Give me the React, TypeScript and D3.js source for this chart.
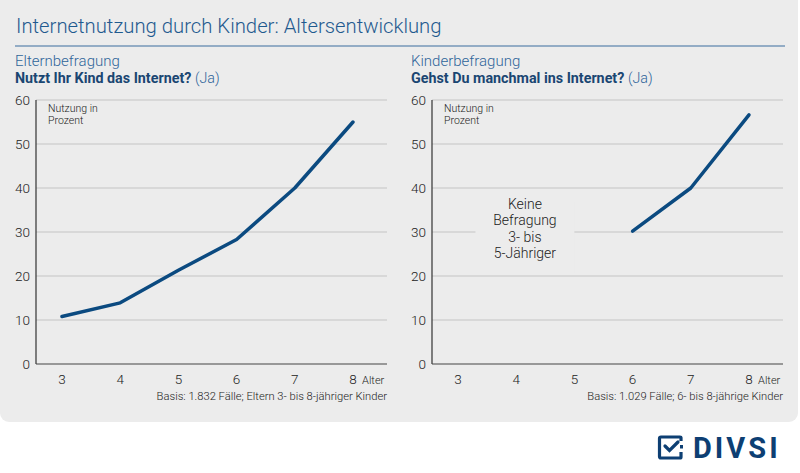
import * as d3 from "d3";
import { useEffect } from "react";

// ages on the x axis
const ages = [3, 4, 5, 6, 7, 8];
const yTicks = [0, 10, 20, 30, 40, 50, 60];

// Elternbefragung: Nutzt Ihr Kind das Internet? (Ja)
const elternAges = [3, 4, 5, 6, 7, 8];
const elternValues = [10.8, 13.9, 21.3, 28.3, 40, 55];

// Kinderbefragung: Gehst Du manchmal ins Internet? (Ja)
const kinderAges = [6, 7, 8];
const kinderValues = [30.2, 40, 56.6];

const FONT = "Roboto, 'DejaVu Sans', sans-serif";
const BLUE = "#0b4a80";

interface PanelProps {
    dx: number;
    heading: string;
    question: string;
    xs: number[];
    ys: number[];
    basis: string;
    note?: string[];
}

function Panel({ dx, heading, question, xs, ys, basis, note }: PanelProps) {
    const axisX = 36;
    const right = 387;
    const x = d3.scaleLinear().domain([3, 8]).range([62, 353]);
    const y = d3.scaleLinear().domain([0, 60]).range([364, 100]);

    const line = d3
        .line<number>()
        .x((_, i) => x(xs[i]))
        .y((d) => y(d));

    return (
        <g transform={`translate(${dx},0)`} fontFamily={FONT}>
            <text x={15} y={66} fontSize={15} fontWeight={300} fill="#2f659a">
                {heading}
            </text>
            <text x={15} y={83} fontSize={14.3} fontWeight={700} fill="#1a4672">
                {question}{" "}
                <tspan fontWeight={300} fill="#2f659a">(Ja)</tspan>
            </text>

            {/* gridlines */}
            {yTicks.filter((t) => t > 0).map((t) => (
                <line key={t} x1={axisX} x2={right} y1={y(t)} y2={y(t)} stroke="#c4c4c4" strokeWidth={1} />
            ))}
            {yTicks.map((t) => (
                <text key={"l" + t} x={30} y={y(t)} dy="0.35em" textAnchor="end" fontSize={13.5} fontWeight={300} fill="#222">
                    {t}
                </text>
            ))}

            {note && (
                <g>
                    <rect x={x(3.3)} y={y(37)} width={x(5) - x(3.3)} height={y(20.5) - y(37)} fill="#ececec" />
                    {note.map((s, i) => (
                        <text key={s} x={x(4.15)} y={209 + i * 16.3} textAnchor="middle" fontSize={14} fontWeight={300} fill="#222">
                            {s}
                        </text>
                    ))}
                </g>
            )}

            {/* axes */}
            <line x1={axisX} x2={axisX} y1={y(60)} y2={y(0)} stroke="#333" strokeWidth={1.2} />
            <line x1={axisX} x2={right} y1={y(0)} y2={y(0)} stroke="#444" strokeWidth={1.2} />
            {ages.map((a) => (
                <text key={a} x={x(a)} y={384} textAnchor="middle" fontSize={13.5} fontWeight={300} fill="#222">
                    {a}
                </text>
            ))}
            <text x={x(8) + 9} y={384} fontSize={11} fontWeight={300} fill="#222">Alter</text>
            <text x={48} y={112} fontSize={10.5} fontWeight={300} fill="#222">Nutzung in</text>
            <text x={48} y={124} fontSize={10.5} fontWeight={300} fill="#222">Prozent</text>
            <text x={right} y={400} textAnchor="end" fontSize={11.2} fontWeight={300} fill="#222">
                {basis}
            </text>

            <path d={line(ys) ?? ""} fill="none" stroke={BLUE} strokeWidth={3.5} strokeLinejoin="round" strokeLinecap="round" />
        </g>
    );
}

export default function App() {
    useEffect(() => {
        document.body.style.margin = "0";
    }, []);

    return (
        <svg width={800} height={473} style={{ display: "block" }}>
            <rect x={0} y={0} width={800} height={473} fill="#ffffff" />
            <rect x={0} y={-10} width={798} height={432} rx={9} fill="#ececec" />
            <text x={16} y={33} fontFamily={FONT} fontSize={20.3} fontWeight={300} fill="#1f5a8f">
                Internetnutzung durch Kinder: Altersentwicklung
            </text>
            <line x1={15} x2={785} y1={46} y2={46} stroke="#3b6d9e" strokeWidth={1.2} />

            <Panel
                dx={0}
                heading="Elternbefragung"
                question="Nutzt Ihr Kind das Internet?"
                xs={elternAges}
                ys={elternValues}
                basis="Basis: 1.832 Fälle; Eltern 3- bis 8-jähriger Kinder"
            />
            <Panel
                dx={396}
                heading="Kinderbefragung"
                question="Gehst Du manchmal ins Internet?"
                xs={kinderAges}
                ys={kinderValues}
                basis="Basis: 1.029 Fälle; 6- bis 8-jährige Kinder"
                note={["Keine", "Befragung", "3- bis", "5-Jähriger"]}
            />

            {/* DIVSI logo */}
            <g fill="none" stroke="#0d3f73" strokeWidth={3.2}>
                <path d="M681 441 L681 437.5 Q681 437 680 437 L661 437 Q659.5 437 659.5 438.5 L659.5 456.5 Q659.5 458 661 458 L680 458 Q681 458 681 457 L681 452" />
                <path d="M665 446 L669.5 450.5 L678 442" strokeLinecap="round" />
            </g>
            <rect x={680} y={445} width={3} height={3.5} fill="#0d3f73" />
            <text x={693} y={458} fontFamily={FONT} fontSize={29} fontWeight={700} fill="#0d3f73" letterSpacing={3}>
                DIVSI
            </text>
        </svg>
    );
}
